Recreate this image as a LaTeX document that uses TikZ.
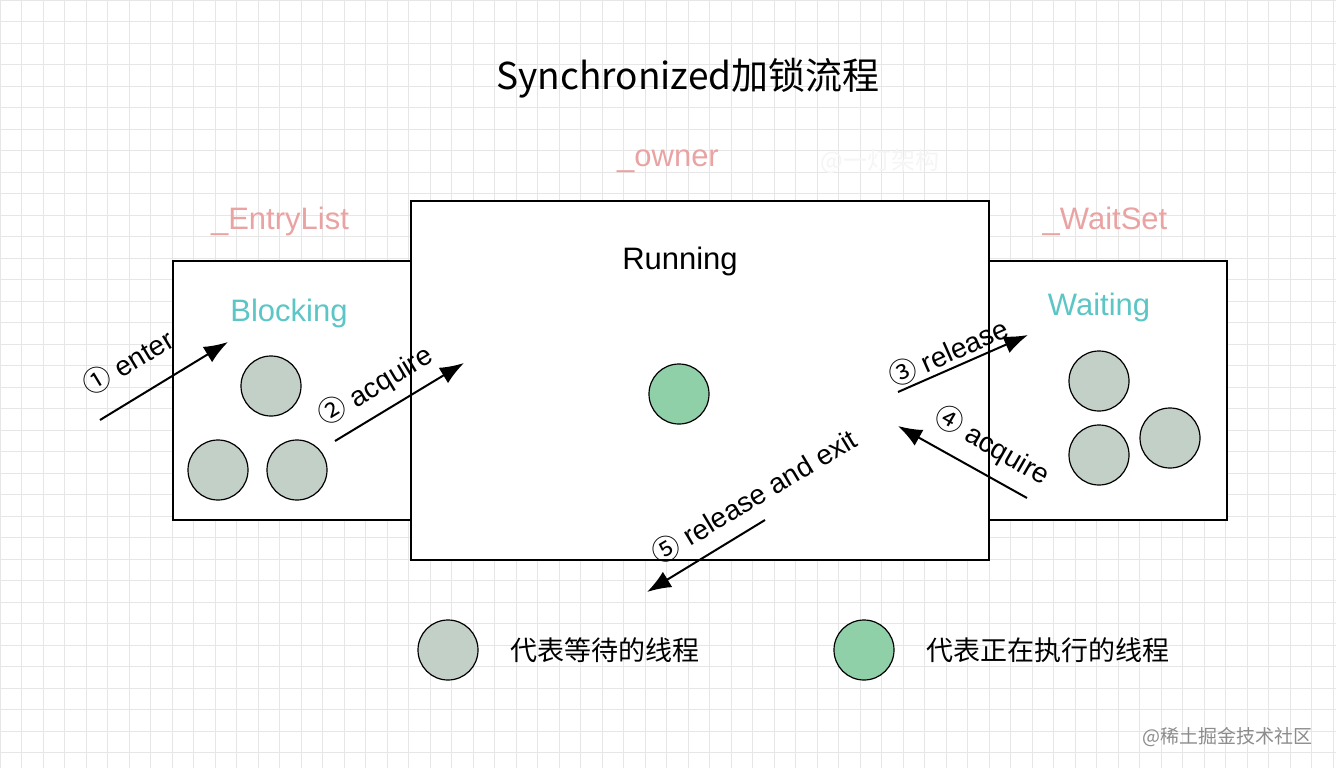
\documentclass[tikz,border=0pt]{standalone}
\usepackage{fontspec}
\setmainfont{Liberation Sans}
\newfontfamily\cjk{Noto Sans CJK SC}
\usetikzlibrary{arrows.meta,positioning}
\definecolor{gridc}{HTML}{E6E6E6}
\definecolor{pinkc}{HTML}{EAA3A3}
\definecolor{tealc}{HTML}{5CC6C6}
\definecolor{waitc}{HTML}{C3D0C8}
\definecolor{runc}{HTML}{8FD0A9}
\tikzset{
  box/.style={draw=black,fill=white,line width=1.2pt},
  tag/.style={text=pinkc,font=\fontsize{31}{32}\selectfont},
  state/.style={text=tealc,font=\fontsize{31}{32}\selectfont},
  waitT/.style={circle,draw=black,line width=1.2pt,fill=waitc,minimum size=60pt,inner sep=0pt},
  runT/.style={circle,draw=black,line width=1.2pt,fill=runc,minimum size=60pt,inner sep=0pt},
  flow/.style={-{Latex[length=24pt,width=18pt]},line width=2pt},
  flowlbl/.style={font=\fontsize{28}{29}\selectfont,inner sep=0pt},
  legend/.style={font=\cjk\fontsize{27}{29}\selectfont}
}
\begin{document}
\begin{tikzpicture}[x=1pt,y=-1pt]
\useasboundingbox (0,0) rectangle (1336,768);
\fill[white] (0,0) rectangle (1336,768);
% background grid
\foreach \gx in {0,21.5,...,1336} \draw[gridc,line width=0.8pt] (\gx,0) -- (\gx,768);
\foreach \gy in {0,21.5,...,768} \draw[gridc,line width=0.8pt] (0,\gy) -- (1336,\gy);

\node[font=\cjk\fontsize{37}{39}\selectfont] (title) at (688,78) {Synchronized加锁流程};

% boxes
\draw[box] (173,261) rectangle (411,520);
\draw[box] (989,261) rectangle (1227,520);
\draw[box] (411,201) rectangle (989,560);

\node[tag] (entry) at (280,221) {\_EntryList};
\node[tag] (owner) at (668,161) {\_owner};
\node[tag] (waitset) at (1105,221) {\_WaitSet};
\node[font=\cjk\fontsize{24}{26}\selectfont,text=black!4] (mark) at (880,161) {@一灯架构};

\node[font=\fontsize{31}{32}\selectfont] (running) at (680,261) {Running};
\node[state] (blocking) at (289,313) {Blocking};
\node[state] (waiting) at (1099,307) {Waiting};

% threads
\node[waitT] (b1) at (271,386) {};
\node[waitT] (b2) at (218,470) {};
\node[waitT] (b3) at (297,470) {};
\node[runT] (r1) at (679,394) {};
\node[waitT] (w1) at (1099,381) {};
\node[waitT] (w2) at (1099,455) {};
\node[waitT] (w3) at (1170,438) {};

% steps
\coordinate (e0) at (100,420); \coordinate (e1) at (228,342);
\coordinate (a0) at (335,441); \coordinate (a1) at (464,363);
\coordinate (r0) at (898,392); \coordinate (rr1) at (1028,335);
\coordinate (q0) at (1027,498); \coordinate (q1) at (898,426);
\coordinate (x0) at (765,520); \coordinate (x1) at (647,592);
\draw[flow] (e0) -- (e1);
\draw[flow] (a0) -- (a1);
\draw[flow] (r0) -- (rr1);
\draw[flow] (q0) -- (q1);
\draw[flow] (x0) -- (x1);
\node[flowlbl,rotate=31] (l1) at (128,362) {{\cjk ①} enter};
\node[flowlbl,rotate=31] (l2) at (376,386) {{\cjk ②} acquire};
\node[flowlbl,rotate=24] (l3) at (948,352) {{\cjk ③} release};
\node[flowlbl,rotate=-30] (l4) at (992,446) {{\cjk ④} acquire};
\node[flowlbl,rotate=31] (l5) at (754,496) {{\cjk ⑤} release and exit};

% legend
\node[waitT] (lw) at (448,650) {};
\node[legend,right=28pt of lw] (lwt) {代表等待的线程};
\node[runT] (lr) at (864,650) {};
\node[legend,right=28pt of lr] (lrt) {代表正在执行的线程};

\node[font=\cjk\fontsize{19}{20}\selectfont,text=black!45,anchor=east] (site) at (1316,737) {@稀土掘金技术社区};
\end{tikzpicture}
\end{document}
